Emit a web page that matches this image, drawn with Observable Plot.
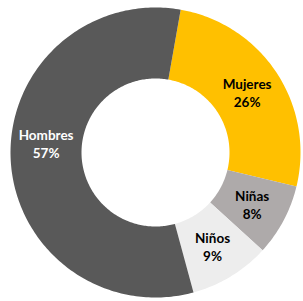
<!DOCTYPE html>
<html>
<head>
<meta charset="utf-8">
<script src="https://cdn.jsdelivr.net/npm/d3@7"></script>
<script src="https://cdn.jsdelivr.net/npm/@observablehq/plot@0.6"></script>
<style>
  html, body { margin: 0; padding: 0; background: #ffffff; }
  #chart svg { display: block; }
</style>
</head>
<body>
<div id="chart"></div>
<script>
// Data
const categories = ["Mujeres", "Niñas", "Niños", "Hombres"];
const values = [26, 8, 9, 57];
const percentLabels = ["26%", "8%", "9%", "57%"];
const colors = ["#FFC000", "#AEAAAA", "#EDEDED", "#595959"];
const darkText = ["Mujeres", "Niñas", "Niños"];

// Layout
const W = 303, H = 301;
const cx = 155, cy = 152, R = 145, r = 74;
const startDeg = 10;
const labelNudge = { Hombres: -14 };

const total = d3.sum(values);
const toRad = Math.PI / 180;
const pts = [];
const labels = [];
let acc = startDeg;
categories.forEach((c, i) => {
  const a0 = acc, a1 = acc + values[i] / total * 360;
  acc = a1;
  const n = Math.max(4, Math.ceil(a1 - a0));
  for (let k = 0; k <= n; k++) {
    const a = (a0 + (a1 - a0) * k / n) * toRad;
    pts.push({ key: c, x: cx + R * Math.sin(a), y: cy - R * Math.cos(a) });
  }
  for (let k = n; k >= 0; k--) {
    const a = (a0 + (a1 - a0) * k / n) * toRad;
    pts.push({ key: c, x: cx + r * Math.sin(a), y: cy - r * Math.cos(a) });
  }
  const am = (a0 + a1) / 2 * toRad, rm = (R + r) / 2;
  labels.push({
    key: c,
    text: c + "\n" + percentLabels[i],
    x: cx + rm * Math.sin(am),
    y: cy - rm * Math.cos(am) + (labelNudge[c] || 0)
  });
});

const textOpts = {
  x: "x", y: "y", text: "text",
  fontFamily: "Lato, 'Open Sans', sans-serif",
  fontWeight: "bold", fontSize: 13.5, lineHeight: 1.33
};

const chart = Plot.plot({
  width: W, height: H, margin: 0,
  style: { background: "#ffffff" },
  x: { domain: [0, W], range: [0, W], axis: null },
  y: { domain: [0, H], range: [0, H], axis: null },
  color: { domain: categories, range: colors },
  marks: [
    Plot.line(pts, { x: "x", y: "y", z: "key", fill: "key", stroke: null,
      style: "filter: drop-shadow(0px 0px 2.5px rgba(0,0,0,0.35))" }),
    Plot.text(labels.filter(d => darkText.includes(d.key)), { ...textOpts, fill: "#000000" }),
    Plot.text(labels.filter(d => !darkText.includes(d.key)), { ...textOpts, fill: "#ffffff" })
  ]
});
document.getElementById("chart").appendChild(chart);
</script>
</body>
</html>
